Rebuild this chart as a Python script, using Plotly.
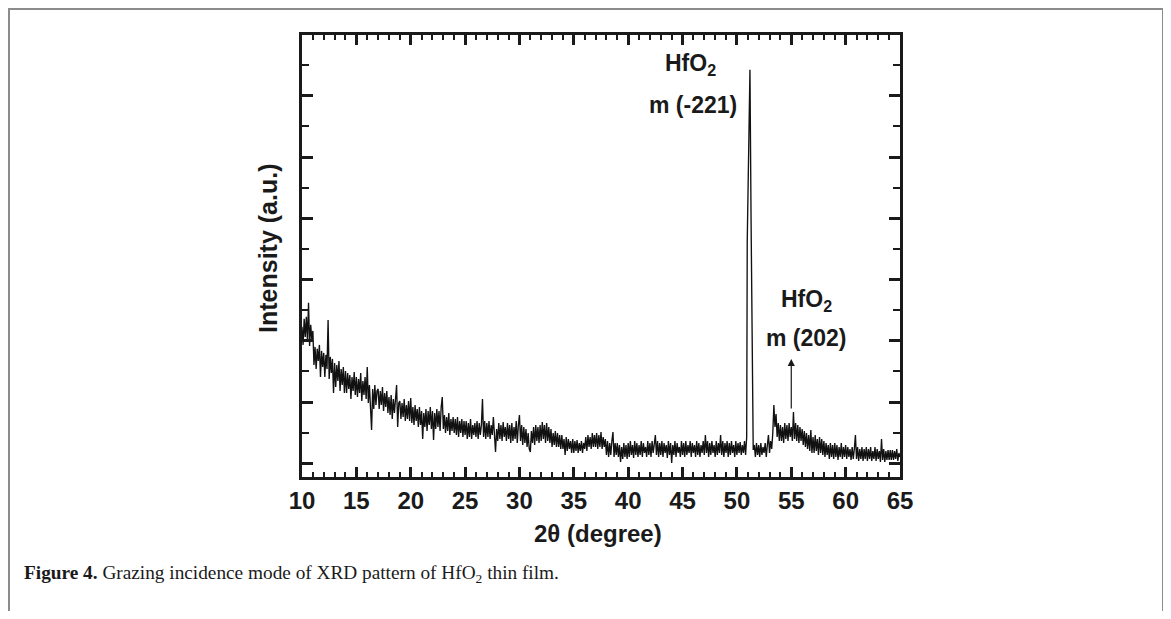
import plotly.graph_objects as go

# ---------------- data (intensity in arbitrary units) ----------------
# regular scan, 0.1 deg step, 10.0 .. 50.8 deg
seg_a_start = 10.0
seg_a = [
    150, 132, 158, 140, 160, 136, 174, 131, 152, 138,
    146, 112, 130, 108, 128, 116, 132, 100, 126, 110,
    124, 100, 122, 108, 157, 98, 120, 104, 118, 84,
    114, 90, 112, 96, 116, 86, 108, 92, 110, 84,
    106, 84, 104, 88, 102, 78, 100, 86, 105, 82,
    100, 80, 98, 84, 104, 76, 96, 82, 100, 78,
    110, 74, 92, 70, 47, 88, 68, 92, 72, 86,
    88, 68, 86, 72, 90, 66, 84, 70, 86, 64,
    80, 62, 82, 58, 78, 64, 80, 92, 50, 74,
    76, 58, 74, 60, 78, 56, 72, 58, 76, 56,
    79, 54, 70, 52, 72, 56, 68, 50, 70, 52,
    66, 38, 64, 50, 68, 46, 66, 52, 70, 48,
    66, 37, 64, 48, 68, 50, 66, 46, 70, 80,
    48, 62, 44, 60, 46, 64, 42, 58, 46, 60,
    44, 58, 42, 60, 40, 56, 44, 58, 40, 56,
    42, 56, 38, 54, 40, 58, 38, 52, 42, 54,
    40, 56, 38, 54, 42, 52, 78, 40, 56, 38,
    54, 40, 56, 38, 52, 42, 60, 36, 25, 48,
    36, 54, 38, 52, 36, 55, 40, 50, 36, 54,
    38, 52, 34, 54, 36, 50, 38, 56, 34, 52,
    62, 36, 52, 32, 50, 34, 48, 30, 44, 28,
    25, 46, 34, 50, 32, 52, 36, 50, 34, 52,
    36, 55, 38, 52, 34, 54, 36, 50, 34, 48,
    30, 44, 32, 46, 30, 44, 30, 42, 28, 42,
    28, 38, 22, 40, 26, 38, 28, 36, 24, 38,
    24, 36, 26, 37, 24, 34, 26, 36, 24, 34,
    28, 40, 26, 42, 30, 40, 28, 44, 30, 42,
    30, 44, 28, 42, 30, 45, 28, 40, 30, 38,
    22, 36, 20, 34, 22, 36, 45, 20, 34, 22,
    34, 20, 32, 15, 30, 18, 34, 20, 32, 18,
    34, 20, 36, 22, 32, 19, 36, 22, 34, 20,
    32, 22, 36, 20, 34, 24, 30, 20, 36, 22,
    34, 20, 36, 24, 34, 42, 22, 36, 20, 34,
    22, 36, 20, 34, 24, 32, 19, 36, 22, 34,
    14, 32, 22, 36, 20, 34, 24, 30, 20, 36,
    22, 34, 20, 36, 22, 32, 24, 36, 20, 34,
    24, 32, 20, 36, 22, 34, 20, 32, 24, 36,
    22, 42, 24, 36, 20, 34, 22, 36, 24, 32,
    20, 36, 22, 34, 24, 42, 22, 36, 20, 34,
    24, 36, 20, 34, 22, 36, 24, 32, 20, 36,
    22, 34, 24, 35, 22, 32, 24, 36, 22,
]
# main HfO2 m(-221) reflection
peak_theta = [50.9, 50.95, 51.1, 51.2, 51.3, 51.42, 51.5]
peak_int = [40, 236, 340, 407, 260, 120, 27]
# regular scan, 0.1 deg step, 51.6 .. 65.0 deg
seg_b_start = 51.6
seg_b = [
    32, 20, 34, 22,
    32, 20, 34, 22, 30, 24, 34, 20, 32, 42,
    24, 36, 28, 44, 72, 50, 63, 40, 54, 36,
    52, 36, 50, 34, 54, 38, 52, 36, 54, 40,
    50, 36, 65, 38, 54, 36, 52, 34, 50, 36,
    48, 32, 46, 30, 44, 28, 42, 26, 47, 24,
    40, 24, 42, 26, 38, 22, 40, 24, 38, 22,
    36, 20, 34, 22, 32, 18, 34, 20, 32, 18,
    34, 20, 32, 17, 30, 20, 34, 18, 30, 20,
    32, 18, 30, 20, 28, 17, 30, 18, 28, 42,
    18, 30, 16, 28, 18, 30, 16, 28, 18, 30,
    16, 28, 18, 30, 16, 26, 18, 30, 16, 28,
    18, 26, 15, 38, 17, 28, 15, 26, 17, 27,
    17, 27, 17, 27, 17, 26, 18, 28, 16, 24,
    20,
]

x_ticks = [10, 15, 20, 25, 30, 35, 40, 45, 50, 55, 60, 65]
x_title = "2θ (degree)"
y_title = "Intensity (a.u.)"
caption = "<b>Figure 4.</b> Grazing incidence mode of XRD pattern of HfO<sub>2</sub> thin film."

two_theta = [round(seg_a_start + 0.1 * i, 2) for i in range(len(seg_a))] + peak_theta + \
            [round(seg_b_start + 0.1 * i, 2) for i in range(len(seg_b))]
intensity = seg_a + peak_int + seg_b

# ---------------- figure ----------------
FONT = "Liberation Sans"
INK = "#1a1a1a"
fig = go.Figure()
fig.add_trace(go.Scatter(x=two_theta, y=intensity, mode="lines",
                         line=dict(color="#111111", width=1.35), showlegend=False))

fig.update_layout(
    width=1163, height=603,
    margin=dict(l=294, r=271, t=27, b=134),
    paper_bgcolor="white", plot_bgcolor="white",
    font=dict(family=FONT, color=INK),
)
fig.update_xaxes(
    range=[10, 65], tickvals=x_ticks, ticks="inside", ticklen=10, tickwidth=2.5,
    tickcolor=INK, showline=True, linewidth=2.5, linecolor=INK,
    mirror="allticks", showgrid=False, zeroline=False,
    tickfont=dict(family=FONT, size=24, weight="bold", color=INK),
    minor=dict(dtick=1, tick0=10, ticks="inside", ticklen=5, tickwidth=2, tickcolor=INK, showgrid=False),
)
fig.update_yaxes(
    range=[0, 441.7], tick0=13.7, dtick=61.2, ticks="inside", ticklen=11, tickwidth=2.5,
    tickcolor=INK, showticklabels=False, showline=True, linewidth=2.5,
    linecolor=INK, mirror="allticks", showgrid=False, zeroline=False,
    minor=dict(dtick=30.6, tick0=13.7, ticks="inside", ticklen=7, tickwidth=2, tickcolor=INK, showgrid=False),
)

bold = dict(family=FONT, size=23, weight="bold", color=INK)
ann = [
    dict(x=0.495, y=-0.127, xref="paper", yref="paper", xanchor="center", yanchor="middle",
         text=x_title, showarrow=False, font=dict(family=FONT, size=24, weight="bold", color=INK)),
    dict(x=-0.057, y=0.518, xref="paper", yref="paper", xanchor="center", yanchor="middle",
         text=y_title, showarrow=False, font=dict(family=FONT, size=25, weight="bold", color=INK),
         textangle=-90),
    dict(x=45.75, y=412, text="HfO<sub>2</sub>", showarrow=False, font=bold),
    dict(x=45.93, y=372, text="m (-221)", showarrow=False, font=bold),
    dict(x=56.36, y=176, text="HfO<sub>2</sub>", showarrow=False, font=bold),
    dict(x=56.36, y=139, text="m (202)", showarrow=False, font=bold),
    dict(x=55, y=118, ax=55, ay=67, axref="x", ayref="y", text="", showarrow=True,
         arrowhead=2, arrowsize=1.2, arrowwidth=1.2, arrowcolor=INK),
    dict(x=(22 - 302) / 598, y=(477 - 574) / 442, xref="paper", yref="paper",
         xanchor="left", yanchor="middle", text=caption, showarrow=False,
         font=dict(family="Liberation Serif", size=19.3, color=INK)),
]
fig.update_layout(annotations=ann)

# outer frame of the figure panel (figure is offset by the 8px page margin)
fig.add_shape(type="rect", xref="paper", yref="paper",
              x0=(1 - 294) / 598, x1=(1155 - 294) / 598,
              y0=(469 - 640) / 442, y1=(469 - 1) / 442,
              line=dict(color="#8c8c8c", width=2), fillcolor="rgba(0,0,0,0)", layer="below")

fig.write_html("out.html")
